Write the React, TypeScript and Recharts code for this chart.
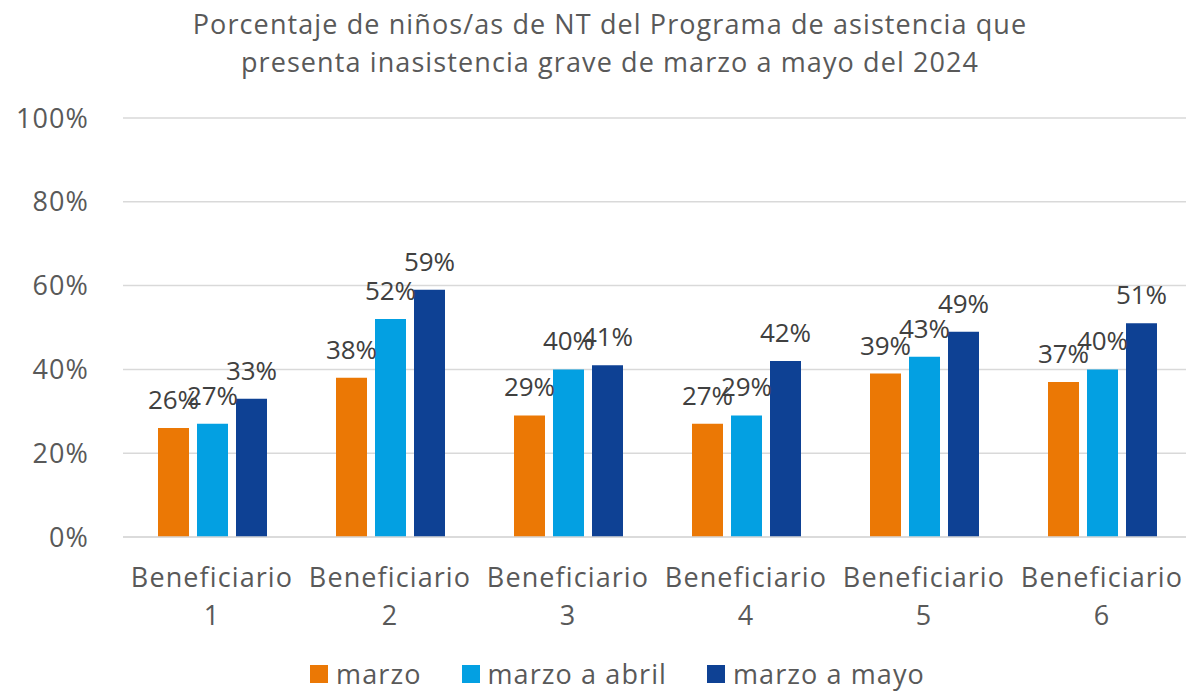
import { Bar, BarChart, CartesianGrid, LabelList, Legend, XAxis, YAxis } from 'recharts';

const categories = ['Beneficiario 1', 'Beneficiario 2', 'Beneficiario 3', 'Beneficiario 4', 'Beneficiario 5', 'Beneficiario 6'];
const marzo = [26, 38, 29, 27, 39, 37];
const marzoAbril = [27, 52, 40, 29, 43, 40];
const marzoMayo = [33, 59, 41, 42, 49, 51];
const yTicks = [0, 20, 40, 60, 80, 100];

const series = [
  { key: 'marzo', name: 'marzo', color: '#EB7805' },
  { key: 'abril', name: 'marzo a abril', color: '#03A0E2' },
  { key: 'mayo', name: 'marzo a mayo', color: '#0E4194' },
];

const data = categories.map((c, i) => ({
  name: c,
  marzo: marzo[i],
  abril: marzoAbril[i],
  mayo: marzoMayo[i],
}));

const FONT = '"Open Sans", Roboto, sans-serif';
const TEXT = '#595959';
const SPACING = '1.1px';

function CategoryTick({ x, y, payload }: any) {
  const [word, num] = String(payload.value).split(' ');
  return (
    <text x={x} y={y} textAnchor="middle" fill={TEXT} fontSize={27} fontFamily={FONT} style={{ letterSpacing: SPACING }}>
      <tspan x={x} dy={42}>{word}</tspan>
      <tspan x={x} dy={38}>{num}</tspan>
    </text>
  );
}

function LegendBox() {
  return (
    <div
      style={{
        display: 'flex',
        justifyContent: 'center',
        gap: 40,
        fontFamily: FONT,
        fontSize: 27,
        letterSpacing: SPACING,
        color: TEXT,
        paddingLeft: 44,
        paddingTop: 4,
        height: 36,
        lineHeight: '36px',
      }}
    >
      {series.map((s) => (
        <div key={s.key} style={{ display: 'flex', alignItems: 'center', gap: 8 }}>
          <span style={{ display: 'inline-block', width: 18, height: 18, background: s.color }} />
          <span>{s.name}</span>
        </div>
      ))}
    </div>
  );
}

export default function App() {
  return (
    <div style={{ position: 'absolute', left: 0, top: 0, width: 1186, height: 692, background: '#fff', overflow: 'hidden' }}>
      <div
        style={{
          position: 'absolute',
          left: 0,
          top: 5,
          width: 1220,
          textAlign: 'center',
          fontFamily: FONT,
          fontSize: 27,
          letterSpacing: SPACING,
          lineHeight: '38px',
          color: TEXT,
        }}
      >
        Porcentaje de niños/as de NT del Programa de asistencia que
        <br />
        presenta inasistencia grave de marzo a mayo del 2024
      </div>
      <BarChart
        width={1191}
        height={692}
        data={data}
        margin={{ top: 118, right: 0, bottom: 0, left: 0 }}
        barGap={8}
        barCategoryGap={34}
      >
        <CartesianGrid vertical={false} stroke="#D9D9D9" strokeWidth={1.5} />
        <XAxis
          dataKey="name"
          axisLine={{ stroke: '#D9D9D9', strokeWidth: 1.5 }}
          tickLine={false}
          tick={<CategoryTick />}
          height={115}
          interval={0}
        />
        <YAxis
          domain={[0, 100]}
          ticks={yTicks}
          tickFormatter={(v: number) => `${v}%`}
          axisLine={false}
          tickLine={false}
          width={123}
          tickMargin={28}
          tick={{ fill: TEXT, fontSize: 27, fontFamily: FONT, style: { letterSpacing: SPACING } }}
        />
        <Legend verticalAlign="bottom" content={<LegendBox />} wrapperStyle={{ bottom: 0 }} />
        {series.map((s) => (
          <Bar key={s.key} dataKey={s.key} name={s.name} fill={s.color} barSize={31} isAnimationActive={false}>
            <LabelList
              dataKey={s.key}
              position="top"
              offset={19}
              formatter={(v: any) => `${v}%`}
              style={{ fill: '#404040', fontSize: 26, fontFamily: FONT }}
            />
          </Bar>
        ))}
      </BarChart>
    </div>
  );
}
